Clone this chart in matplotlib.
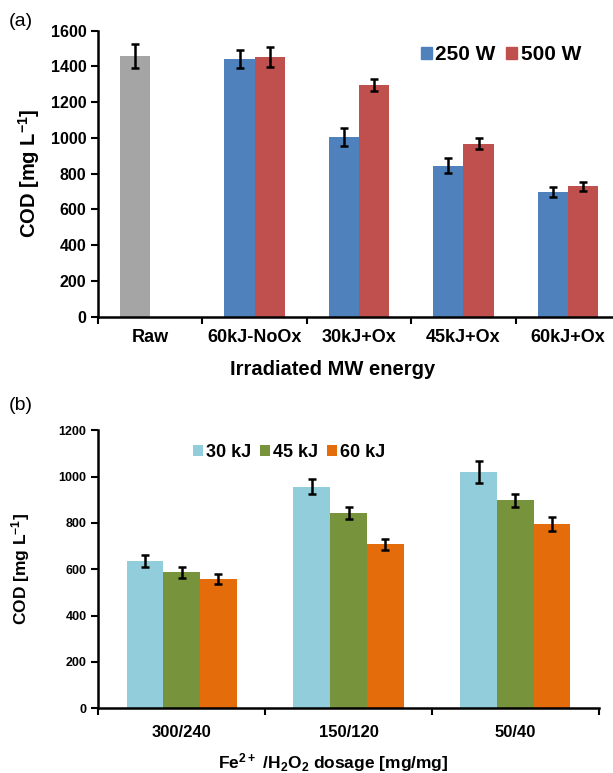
import matplotlib
matplotlib.use('Agg')
import matplotlib.pyplot as plt
import numpy as np
from matplotlib.patches import Patch

plt.rcParams['font.family'] = ['Liberation Sans', 'DejaVu Sans']
plt.rcParams['font.weight'] = 'bold'
plt.rcParams['axes.labelweight'] = 'bold'
plt.rcParams['mathtext.fontset'] = 'custom'
plt.rcParams['mathtext.rm'] = 'Liberation Sans:bold'
plt.rcParams['mathtext.bf'] = 'Liberation Sans:bold'
plt.rcParams['mathtext.default'] = 'bf'

# panel (a) data
cats_a = ['Raw', '60kJ-NoOx', '30kJ+Ox', '45kJ+Ox', '60kJ+Ox']
w250 = [1460, 1440, 1005, 845, 700]
w250_err = [68, 50, 52, 42, 28]
w500 = [np.nan, 1451, 1295, 968, 730]
w500_err = [0, 55, 33, 32, 25]

# panel (b) data
cats_b = ['300/240', '150/120', '50/40']
kj30 = [635, 957, 1019]
kj30_err = [26, 32, 48]
kj45 = [587, 844, 898]
kj45_err = [24, 27, 29]
kj60 = [557, 708, 796]
kj60_err = [21, 23, 31]

col_blue = '#4F81BD'
col_red = '#C0504D'
col_gray = '#A5A5A5'
col_lb = '#92CDDC'
col_gr = '#77933C'
col_or = '#E46C0A'

fig = plt.figure(figsize=(6.13, 7.73), dpi=100)

def style_axis(ax, n, lsize, tsize, pad):
    for s in ['top', 'right']:
        ax.spines[s].set_visible(False)
    for s in ['left', 'bottom']:
        ax.spines[s].set_linewidth(1.8)
    ax.set_xlim(-0.5, n - 0.5)
    ax.set_xticks(np.arange(n))
    ax.set_xticks(np.arange(n + 1) - 0.5, minor=True)
    ax.tick_params(axis='x', which='major', length=0, labelsize=lsize, pad=pad)
    ax.tick_params(axis='x', which='minor', length=5, width=1.5, direction='out')
    ax.tick_params(axis='y', length=5, width=1.5, direction='out', labelsize=tsize)

ek = dict(ecolor='black', elinewidth=1.8, capsize=3, capthick=1.8)

# ---- (a)
ax1 = fig.add_axes([0.160, 0.5903, 0.8515, 0.370])
x = np.arange(len(cats_a))
bw = 0.29
colors250 = [col_gray] + [col_blue] * 4
ax1.bar(x - bw / 2, w250, bw, color=colors250, yerr=w250_err, error_kw=ek)
ax1.bar(x[1:] + bw / 2, w500[1:], bw, color=col_red, yerr=w500_err[1:], error_kw=ek)
ax1.set_ylim(0, 1600)
ax1.set_yticks(np.arange(0, 1601, 200))
style_axis(ax1, len(cats_a), 13, 11.5, 9)
ax1.set_xticklabels(cats_a)
ax1.set_ylabel('COD [mg L$^{-1}$]', fontsize=14.5)
ax1.yaxis.set_label_coords(-0.108, 0.5)
ax1.set_xlabel('Irradiated MW energy', fontsize=14.5)
ax1.xaxis.set_label_coords(0.45, -0.15)
ax1.legend([Patch(color=col_blue), Patch(color=col_red)], ['250 W', '500 W'],
           loc='center left', bbox_to_anchor=(0.618, 0.915), ncol=2, frameon=False,
           fontsize=15, handlelength=0.55, handleheight=0.55, handletextpad=0.15,
           columnspacing=0.5, borderpad=0, borderaxespad=0)
fig.text(0.014, 0.972, '(a)', fontsize=14, fontweight='normal', va='center')

# ---- (b)
ax2 = fig.add_axes([0.1604, 0.0837, 0.8163, 0.3596])
x = np.arange(len(cats_b))
bw = 0.22
ax2.bar(x - bw, kj30, bw, color=col_lb, yerr=kj30_err, error_kw=ek, label='30 kJ')
ax2.bar(x, kj45, bw, color=col_gr, yerr=kj45_err, error_kw=ek, label='45 kJ')
ax2.bar(x + bw, kj60, bw, color=col_or, yerr=kj60_err, error_kw=ek, label='60 kJ')
ax2.set_ylim(0, 1200)
ax2.set_yticks(np.arange(0, 1201, 200))
style_axis(ax2, len(cats_b), 12, 9, 12)
ax2.set_xticklabels(cats_b)
ax2.set_ylabel('COD [mg L$^{-1}$]', fontsize=12.5)
ax2.yaxis.set_label_coords(-0.132, 0.5)
ax2.set_xlabel('Fe$^{2+}$ /H$_2$O$_2$ dosage [mg/mg]', fontsize=12.5)
ax2.xaxis.set_label_coords(0.47, -0.155)
ax2.legend(loc='center left', bbox_to_anchor=(0.19, 0.922), ncol=3, frameon=False,
           fontsize=13, handlelength=0.55, handleheight=0.55, handletextpad=0.15,
           columnspacing=0.5, borderpad=0, borderaxespad=0)
fig.text(0.014, 0.475, '(b)', fontsize=14, fontweight='normal', va='center')

fig.savefig('out.png', dpi=100)
